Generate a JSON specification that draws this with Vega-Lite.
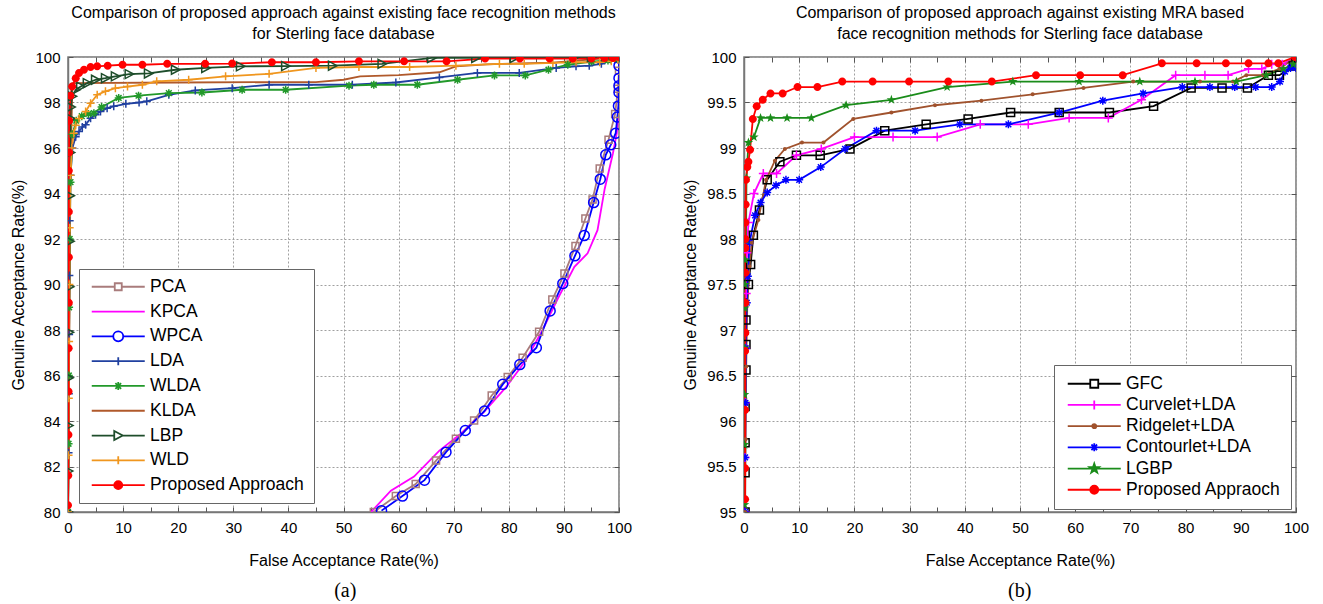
{
"$schema": "https://vega.github.io/schema/vega-lite/v6.json",
"background": "white",
"padding": {"left": 10, "top": 4, "right": 5, "bottom": 0},
"spacing": 49,
"resolve": {"scale": {"color": "independent", "shape": "independent"}, "legend": {"color": "independent", "shape": "independent"}},
"config": {
  "font": "Liberation Sans",
  "view": {"stroke": "#777", "strokeWidth": 1.5},
  "axis": {"labelFont": "Liberation Sans", "labelFontSize": 15, "labelColor": "black", "titleFont": "Liberation Sans", "titleFontSize": 16, "titleFontWeight": "normal", "titleColor": "black", "domainColor": "#777", "domainWidth": 1.5, "tickColor": "#555", "tickSize": -5, "labelPadding": 13, "gridColor": "#a0a0a0", "gridDash": [2, 2], "gridWidth": 1, "labelFlush": false, "labelOverlap": false},
  "title": {"font": "Liberation Sans", "fontSize": 16, "fontWeight": "normal", "color": "black"},
  "legend": {"labelFont": "Liberation Sans", "labelFontSize": 17.5, "labelColor": "black", "fillColor": "white", "strokeColor": "#666", "symbolSize": 100, "symbolStrokeWidth": 1.8, "labelOffset": 44.5, "labelLimit": 400, "symbolType": "stroke"}
},
"datasets": {
"a": [
{"s":"PCA","x":55.5,"y":80},{"s":"PCA","x":59.5,"y":80.7},{"s":"PCA","x":63.1,"y":81.23},{"s":"PCA","x":66.8,"y":82.26},{"s":"PCA","x":70.4,"y":83.22},{"s":"PCA","x":73.7,"y":84.02},{"s":"PCA","x":76.9,"y":85.12},{"s":"PCA","x":79.8,"y":85.93},{"s":"PCA","x":82.5,"y":86.78},{"s":"PCA","x":85.5,"y":87.92},{"s":"PCA","x":87.9,"y":89.34},{"s":"PCA","x":90.1,"y":90.48},{"s":"PCA","x":92.1,"y":91.69},{"s":"PCA","x":93.9,"y":92.9},{"s":"PCA","x":95.2,"y":93.74},{"s":"PCA","x":96.5,"y":95.1},{"s":"PCA","x":98.1,"y":96.36},{"s":"PCA","x":99.3,"y":97.5},{"s":"PCA","x":99.8,"y":98.6},{"s":"PCA","x":100,"y":99.4},{"s":"PCA","x":100,"y":100},
{"s":"KPCA","x":55,"y":80},{"s":"KPCA","x":58.6,"y":80.94},{"s":"KPCA","x":62.8,"y":81.56},{"s":"KPCA","x":67.4,"y":82.7},{"s":"KPCA","x":71.6,"y":83.5},{"s":"KPCA","x":75.5,"y":84.4},{"s":"KPCA","x":79.5,"y":85.49},{"s":"KPCA","x":83.1,"y":86.67},{"s":"KPCA","x":86.1,"y":87.99},{"s":"KPCA","x":88.9,"y":89.38},{"s":"KPCA","x":91.9,"y":90.78},{"s":"KPCA","x":94.3,"y":91.37},{"s":"KPCA","x":96.1,"y":92.39},{"s":"KPCA","x":97.4,"y":94.2},{"s":"KPCA","x":98.9,"y":95.77},{"s":"KPCA","x":99.6,"y":96.65},{"s":"KPCA","x":99.95,"y":97.68},{"s":"KPCA","x":100,"y":100},
{"s":"WPCA","x":56.9,"y":80.06},{"s":"WPCA","x":60.7,"y":80.7},{"s":"WPCA","x":64.7,"y":81.4},{"s":"WPCA","x":68.6,"y":82.63},{"s":"WPCA","x":72.1,"y":83.58},{"s":"WPCA","x":75.6,"y":84.44},{"s":"WPCA","x":78.9,"y":85.61},{"s":"WPCA","x":82,"y":86.48},{"s":"WPCA","x":85,"y":87.22},{"s":"WPCA","x":87.5,"y":88.84},{"s":"WPCA","x":89.8,"y":90.04},{"s":"WPCA","x":92,"y":91.26},{"s":"WPCA","x":93.7,"y":92.15},{"s":"WPCA","x":95.4,"y":93.6},{"s":"WPCA","x":96.6,"y":94.63},{"s":"WPCA","x":97.6,"y":95.7},{"s":"WPCA","x":98.5,"y":96.14},{"s":"WPCA","x":99.4,"y":96.65},{"s":"WPCA","x":99.7,"y":97.36},{"s":"WPCA","x":99.9,"y":97.85},{"s":"WPCA","x":100,"y":98.44},{"s":"WPCA","x":100,"y":98.74},{"s":"WPCA","x":100,"y":99.07},{"s":"WPCA","x":100,"y":99.62},{"s":"WPCA","x":100,"y":99.96},
{"s":"LDA","x":0,"y":80},{"s":"LDA","x":0.1,"y":82.6},{"s":"LDA","x":0.15,"y":85.2},{"s":"LDA","x":0.2,"y":87.8},{"s":"LDA","x":0.25,"y":90.4},{"s":"LDA","x":0.3,"y":92.8},{"s":"LDA","x":0.45,"y":94.8},{"s":"LDA","x":0.8,"y":96.0},{"s":"LDA","x":1.4,"y":96.5},{"s":"LDA","x":2,"y":96.73},{"s":"LDA","x":2.6,"y":96.92},{"s":"LDA","x":3.2,"y":97.02},{"s":"LDA","x":4.1,"y":97.31},{"s":"LDA","x":5,"y":97.46},{"s":"LDA","x":5.9,"y":97.6},{"s":"LDA","x":7.1,"y":97.75},{"s":"LDA","x":8.3,"y":97.83},{"s":"LDA","x":10.5,"y":97.94},{"s":"LDA","x":12.9,"y":98.0},{"s":"LDA","x":14.3,"y":98.05},{"s":"LDA","x":18.3,"y":98.34},{"s":"LDA","x":23.1,"y":98.53},{"s":"LDA","x":29.8,"y":98.63},{"s":"LDA","x":36.5,"y":98.78},{"s":"LDA","x":43.7,"y":98.78},{"s":"LDA","x":51.6,"y":98.78},{"s":"LDA","x":59.5,"y":98.88},{"s":"LDA","x":67.4,"y":99.1},{"s":"LDA","x":74.3,"y":99.3},{"s":"LDA","x":81.9,"y":99.3},{"s":"LDA","x":88.6,"y":99.52},{"s":"LDA","x":92.2,"y":99.59},{"s":"LDA","x":94.6,"y":99.62},{"s":"LDA","x":96.8,"y":99.7},{"s":"LDA","x":99.5,"y":99.96},{"s":"LDA","x":100,"y":100},
{"s":"WLDA","x":0,"y":80},{"s":"WLDA","x":0.1,"y":83},{"s":"WLDA","x":0.15,"y":86},{"s":"WLDA","x":0.2,"y":89},{"s":"WLDA","x":0.3,"y":92},{"s":"WLDA","x":0.45,"y":94.5},{"s":"WLDA","x":0.8,"y":96.6},{"s":"WLDA","x":1.5,"y":97.2},{"s":"WLDA","x":2.5,"y":97.4},{"s":"WLDA","x":3.7,"y":97.5},{"s":"WLDA","x":4.7,"y":97.53},{"s":"WLDA","x":6.1,"y":97.8},{"s":"WLDA","x":9.2,"y":98.2},{"s":"WLDA","x":12.8,"y":98.3},{"s":"WLDA","x":18.3,"y":98.41},{"s":"WLDA","x":24.3,"y":98.44},{"s":"WLDA","x":31.6,"y":98.56},{"s":"WLDA","x":39.5,"y":98.56},{"s":"WLDA","x":51,"y":98.74},{"s":"WLDA","x":55.5,"y":98.78},{"s":"WLDA","x":63.4,"y":98.78},{"s":"WLDA","x":70.7,"y":99.0},{"s":"WLDA","x":77.4,"y":99.19},{"s":"WLDA","x":83,"y":99.19},{"s":"WLDA","x":87.2,"y":99.44},{"s":"WLDA","x":90.7,"y":99.66},{"s":"WLDA","x":95,"y":99.8},{"s":"WLDA","x":98,"y":99.85},{"s":"WLDA","x":100,"y":99.9},
{"s":"KLDA","x":0,"y":80},{"s":"KLDA","x":0.15,"y":85},{"s":"KLDA","x":0.3,"y":90},{"s":"KLDA","x":0.45,"y":95},{"s":"KLDA","x":0.8,"y":98.85},{"s":"KLDA","x":20,"y":98.88},{"s":"KLDA","x":45,"y":98.9},{"s":"KLDA","x":50,"y":99.0},{"s":"KLDA","x":53,"y":99.15},{"s":"KLDA","x":60,"y":99.2},{"s":"KLDA","x":67.4,"y":99.33},{"s":"KLDA","x":70.4,"y":99.59},{"s":"KLDA","x":76,"y":99.68},{"s":"KLDA","x":88,"y":99.75},{"s":"KLDA","x":100,"y":100},
{"s":"LBP","x":0,"y":80},{"s":"LBP","x":0.05,"y":81.8},{"s":"LBP","x":0.1,"y":83.8},{"s":"LBP","x":0.15,"y":85.9},{"s":"LBP","x":0.2,"y":87.9},{"s":"LBP","x":0.25,"y":89.9},{"s":"LBP","x":0.3,"y":91.9},{"s":"LBP","x":0.35,"y":93.9},{"s":"LBP","x":0.4,"y":95.8},{"s":"LBP","x":0.45,"y":97.3},{"s":"LBP","x":0.5,"y":97.8},{"s":"LBP","x":0.75,"y":98.27},{"s":"LBP","x":1.4,"y":98.56},{"s":"LBP","x":2.3,"y":98.7},{"s":"LBP","x":3.5,"y":98.85},{"s":"LBP","x":5,"y":99.0},{"s":"LBP","x":6.8,"y":99.07},{"s":"LBP","x":8.6,"y":99.15},{"s":"LBP","x":11.1,"y":99.25},{"s":"LBP","x":14.6,"y":99.28},{"s":"LBP","x":19.5,"y":99.44},{"s":"LBP","x":25,"y":99.52},{"s":"LBP","x":31.3,"y":99.59},{"s":"LBP","x":39.5,"y":99.6},{"s":"LBP","x":48,"y":99.62},{"s":"LBP","x":57,"y":99.7},{"s":"LBP","x":66,"y":99.96},{"s":"LBP","x":74,"y":99.96},{"s":"LBP","x":81,"y":99.96},{"s":"LBP","x":92,"y":100},{"s":"LBP","x":95,"y":100},{"s":"LBP","x":97.6,"y":100},{"s":"LBP","x":99,"y":100},{"s":"LBP","x":100,"y":100},
{"s":"WLD","x":0,"y":80},{"s":"WLD","x":0.1,"y":82.5},{"s":"WLD","x":0.15,"y":85},{"s":"WLD","x":0.2,"y":87.5},{"s":"WLD","x":0.25,"y":90},{"s":"WLD","x":0.3,"y":92.5},{"s":"WLD","x":0.45,"y":94.8},{"s":"WLD","x":0.7,"y":96.0},{"s":"WLD","x":1.05,"y":96.65},{"s":"WLD","x":1.4,"y":97.0},{"s":"WLD","x":2,"y":97.3},{"s":"WLD","x":3.2,"y":97.6},{"s":"WLD","x":4.1,"y":97.97},{"s":"WLD","x":5.3,"y":98.34},{"s":"WLD","x":6.8,"y":98.49},{"s":"WLD","x":8.6,"y":98.63},{"s":"WLD","x":10.8,"y":98.7},{"s":"WLD","x":13.5,"y":98.78},{"s":"WLD","x":16.1,"y":98.93},{"s":"WLD","x":21.9,"y":99.0},{"s":"WLD","x":28.6,"y":99.15},{"s":"WLD","x":36.5,"y":99.26},{"s":"WLD","x":45,"y":99.52},{"s":"WLD","x":52.8,"y":99.56},{"s":"WLD","x":62,"y":99.56},{"s":"WLD","x":70.4,"y":99.62},{"s":"WLD","x":78.3,"y":99.7},{"s":"WLD","x":82.8,"y":99.7},{"s":"WLD","x":88,"y":99.74},{"s":"WLD","x":92.2,"y":99.77},{"s":"WLD","x":96.5,"y":99.77},{"s":"WLD","x":98.6,"y":99.81},{"s":"WLD","x":99.8,"y":99.88},{"s":"WLD","x":100,"y":100},
{"s":"Proposed Approach","x":0,"y":80.3},{"s":"Proposed Approach","x":0.05,"y":81.6},{"s":"Proposed Approach","x":0.08,"y":83.4},{"s":"Proposed Approach","x":0.1,"y":85.3},{"s":"Proposed Approach","x":0.12,"y":87.2},{"s":"Proposed Approach","x":0.15,"y":89.2},{"s":"Proposed Approach","x":0.15,"y":91.2},{"s":"Proposed Approach","x":0.15,"y":93.2},{"s":"Proposed Approach","x":0.15,"y":95.0},{"s":"Proposed Approach","x":0.2,"y":95.8},{"s":"Proposed Approach","x":0.2,"y":97.2},{"s":"Proposed Approach","x":0.45,"y":98.3},{"s":"Proposed Approach","x":0.75,"y":98.7},{"s":"Proposed Approach","x":1.4,"y":99.07},{"s":"Proposed Approach","x":2,"y":99.3},{"s":"Proposed Approach","x":2.9,"y":99.44},{"s":"Proposed Approach","x":4.1,"y":99.56},{"s":"Proposed Approach","x":5.3,"y":99.59},{"s":"Proposed Approach","x":7.2,"y":99.62},{"s":"Proposed Approach","x":9.9,"y":99.66},{"s":"Proposed Approach","x":13.5,"y":99.66},{"s":"Proposed Approach","x":18,"y":99.7},{"s":"Proposed Approach","x":24.9,"y":99.7},{"s":"Proposed Approach","x":29.8,"y":99.71},{"s":"Proposed Approach","x":37,"y":99.77},{"s":"Proposed Approach","x":45,"y":99.77},{"s":"Proposed Approach","x":52.8,"y":99.81},{"s":"Proposed Approach","x":61,"y":99.81},{"s":"Proposed Approach","x":68.7,"y":99.81},{"s":"Proposed Approach","x":75.7,"y":99.93},{"s":"Proposed Approach","x":82,"y":99.93},{"s":"Proposed Approach","x":87.4,"y":99.93},{"s":"Proposed Approach","x":91.6,"y":99.93},{"s":"Proposed Approach","x":95,"y":99.93},{"s":"Proposed Approach","x":97.4,"y":99.96},{"s":"Proposed Approach","x":98.9,"y":99.96},{"s":"Proposed Approach","x":100,"y":100}
],
"b": [
{"s":"GFC","x":0.2,"y":95.0},{"s":"GFC","x":0.2,"y":95.43},{"s":"GFC","x":0.2,"y":95.76},{"s":"GFC","x":0.2,"y":96.16},{"s":"GFC","x":0.36,"y":96.56},{"s":"GFC","x":0.36,"y":96.84},{"s":"GFC","x":0.36,"y":97.11},{"s":"GFC","x":0.8,"y":97.5},{"s":"GFC","x":1.2,"y":97.72},{"s":"GFC","x":1.7,"y":98.04},{"s":"GFC","x":2.8,"y":98.32},{"s":"GFC","x":4.2,"y":98.65},{"s":"GFC","x":6.5,"y":98.85},{"s":"GFC","x":9.5,"y":98.92},{"s":"GFC","x":13.8,"y":98.92},{"s":"GFC","x":19.2,"y":98.99},{"s":"GFC","x":25.5,"y":99.19},{"s":"GFC","x":33,"y":99.26},{"s":"GFC","x":40.6,"y":99.32},{"s":"GFC","x":48.3,"y":99.39},{"s":"GFC","x":57.1,"y":99.39},{"s":"GFC","x":66.2,"y":99.39},{"s":"GFC","x":74.2,"y":99.46},{"s":"GFC","x":81,"y":99.66},{"s":"GFC","x":86.6,"y":99.66},{"s":"GFC","x":91.2,"y":99.66},{"s":"GFC","x":95,"y":99.8},{"s":"GFC","x":97,"y":99.8},{"s":"GFC","x":99.5,"y":99.9},{"s":"GFC","x":100,"y":100},
{"s":"Curvelet+LDA","x":0.2,"y":95.0},{"s":"Curvelet+LDA","x":0.2,"y":95.6},{"s":"Curvelet+LDA","x":0.25,"y":96.2},{"s":"Curvelet+LDA","x":0.3,"y":96.8},{"s":"Curvelet+LDA","x":0.4,"y":97.4},{"s":"Curvelet+LDA","x":0.5,"y":97.85},{"s":"Curvelet+LDA","x":0.8,"y":98.18},{"s":"Curvelet+LDA","x":1.8,"y":98.5},{"s":"Curvelet+LDA","x":3.5,"y":98.72},{"s":"Curvelet+LDA","x":5.9,"y":98.72},{"s":"Curvelet+LDA","x":9.5,"y":98.92},{"s":"Curvelet+LDA","x":14,"y":98.99},{"s":"Curvelet+LDA","x":20,"y":99.12},{"s":"Curvelet+LDA","x":27,"y":99.12},{"s":"Curvelet+LDA","x":35,"y":99.12},{"s":"Curvelet+LDA","x":42.8,"y":99.26},{"s":"Curvelet+LDA","x":51.5,"y":99.26},{"s":"Curvelet+LDA","x":58.9,"y":99.33},{"s":"Curvelet+LDA","x":66,"y":99.33},{"s":"Curvelet+LDA","x":72,"y":99.53},{"s":"Curvelet+LDA","x":78.2,"y":99.8},{"s":"Curvelet+LDA","x":83.5,"y":99.8},{"s":"Curvelet+LDA","x":87.7,"y":99.8},{"s":"Curvelet+LDA","x":91.4,"y":99.87},{"s":"Curvelet+LDA","x":93.8,"y":99.87},{"s":"Curvelet+LDA","x":95.6,"y":99.92},{"s":"Curvelet+LDA","x":97.5,"y":99.92},{"s":"Curvelet+LDA","x":100,"y":100},
{"s":"Ridgelet+LDA","x":0.2,"y":95.0},{"s":"Ridgelet+LDA","x":0.3,"y":95.8},{"s":"Ridgelet+LDA","x":0.4,"y":96.6},{"s":"Ridgelet+LDA","x":0.6,"y":97.3},{"s":"Ridgelet+LDA","x":1.0,"y":97.7},{"s":"Ridgelet+LDA","x":1.4,"y":97.96},{"s":"Ridgelet+LDA","x":2.6,"y":98.21},{"s":"Ridgelet+LDA","x":4,"y":98.65},{"s":"Ridgelet+LDA","x":5.6,"y":98.86},{"s":"Ridgelet+LDA","x":7.4,"y":98.99},{"s":"Ridgelet+LDA","x":10.5,"y":99.06},{"s":"Ridgelet+LDA","x":14.4,"y":99.06},{"s":"Ridgelet+LDA","x":19.8,"y":99.32},{"s":"Ridgelet+LDA","x":26.7,"y":99.39},{"s":"Ridgelet+LDA","x":34.6,"y":99.47},{"s":"Ridgelet+LDA","x":43,"y":99.52},{"s":"Ridgelet+LDA","x":52.3,"y":99.59},{"s":"Ridgelet+LDA","x":61.5,"y":99.66},{"s":"Ridgelet+LDA","x":70.5,"y":99.73},{"s":"Ridgelet+LDA","x":82.6,"y":99.73},{"s":"Ridgelet+LDA","x":88.6,"y":99.73},{"s":"Ridgelet+LDA","x":91,"y":99.8},{"s":"Ridgelet+LDA","x":94,"y":99.8},{"s":"Ridgelet+LDA","x":97,"y":99.87},{"s":"Ridgelet+LDA","x":100,"y":100},
{"s":"Contourlet+LDA","x":0.2,"y":95.0},{"s":"Contourlet+LDA","x":0.2,"y":95.6},{"s":"Contourlet+LDA","x":0.25,"y":96.2},{"s":"Contourlet+LDA","x":0.3,"y":96.8},{"s":"Contourlet+LDA","x":0.5,"y":97.3},{"s":"Contourlet+LDA","x":0.7,"y":97.59},{"s":"Contourlet+LDA","x":1,"y":97.96},{"s":"Contourlet+LDA","x":2,"y":98.26},{"s":"Contourlet+LDA","x":3,"y":98.4},{"s":"Contourlet+LDA","x":4.2,"y":98.51},{"s":"Contourlet+LDA","x":5.8,"y":98.59},{"s":"Contourlet+LDA","x":7.6,"y":98.65},{"s":"Contourlet+LDA","x":10,"y":98.65},{"s":"Contourlet+LDA","x":13.9,"y":98.79},{"s":"Contourlet+LDA","x":18.3,"y":98.99},{"s":"Contourlet+LDA","x":24,"y":99.19},{"s":"Contourlet+LDA","x":31,"y":99.19},{"s":"Contourlet+LDA","x":39.1,"y":99.26},{"s":"Contourlet+LDA","x":47.9,"y":99.26},{"s":"Contourlet+LDA","x":57.1,"y":99.39},{"s":"Contourlet+LDA","x":65,"y":99.52},{"s":"Contourlet+LDA","x":72.3,"y":99.6},{"s":"Contourlet+LDA","x":79.4,"y":99.67},{"s":"Contourlet+LDA","x":84.4,"y":99.67},{"s":"Contourlet+LDA","x":88.9,"y":99.67},{"s":"Contourlet+LDA","x":92.7,"y":99.67},{"s":"Contourlet+LDA","x":95.6,"y":99.67},{"s":"Contourlet+LDA","x":97.1,"y":99.73},{"s":"Contourlet+LDA","x":98,"y":99.84},{"s":"Contourlet+LDA","x":99,"y":99.88},{"s":"Contourlet+LDA","x":100,"y":99.88},
{"s":"LGBP","x":0.1,"y":95.08},{"s":"LGBP","x":0.1,"y":95.74},{"s":"LGBP","x":0.1,"y":96.29},{"s":"LGBP","x":0.15,"y":96.8},{"s":"LGBP","x":0.15,"y":97.24},{"s":"LGBP","x":0.2,"y":97.5},{"s":"LGBP","x":0.2,"y":97.77},{"s":"LGBP","x":0.36,"y":97.99},{"s":"LGBP","x":0.45,"y":98.67},{"s":"LGBP","x":0.8,"y":99.06},{"s":"LGBP","x":1.8,"y":99.12},{"s":"LGBP","x":3,"y":99.33},{"s":"LGBP","x":4.8,"y":99.33},{"s":"LGBP","x":7.8,"y":99.33},{"s":"LGBP","x":12.2,"y":99.33},{"s":"LGBP","x":18.5,"y":99.47},{"s":"LGBP","x":26.7,"y":99.53},{"s":"LGBP","x":36.8,"y":99.67},{"s":"LGBP","x":48.7,"y":99.73},{"s":"LGBP","x":60.7,"y":99.73},{"s":"LGBP","x":71.7,"y":99.73},{"s":"LGBP","x":81.7,"y":99.73},{"s":"LGBP","x":89.2,"y":99.73},{"s":"LGBP","x":94.6,"y":99.8},{"s":"LGBP","x":97.7,"y":99.87},{"s":"LGBP","x":99.5,"y":99.92},{"s":"LGBP","x":100,"y":100},
{"s":"Proposed Appraoch","x":0.2,"y":95.14},{"s":"Proposed Appraoch","x":0.2,"y":95.48},{"s":"Proposed Appraoch","x":0.2,"y":96.12},{"s":"Proposed Appraoch","x":0.2,"y":96.77},{"s":"Proposed Appraoch","x":0.25,"y":96.97},{"s":"Proposed Appraoch","x":0.25,"y":97.3},{"s":"Proposed Appraoch","x":0.25,"y":97.63},{"s":"Proposed Appraoch","x":0.25,"y":97.9},{"s":"Proposed Appraoch","x":0.25,"y":98.0},{"s":"Proposed Appraoch","x":0.25,"y":98.18},{"s":"Proposed Appraoch","x":0.3,"y":98.38},{"s":"Proposed Appraoch","x":0.36,"y":98.65},{"s":"Proposed Appraoch","x":0.6,"y":98.79},{"s":"Proposed Appraoch","x":0.8,"y":98.85},{"s":"Proposed Appraoch","x":1.1,"y":98.98},{"s":"Proposed Appraoch","x":1.6,"y":99.32},{"s":"Proposed Appraoch","x":2.3,"y":99.46},{"s":"Proposed Appraoch","x":3.4,"y":99.53},{"s":"Proposed Appraoch","x":4.8,"y":99.6},{"s":"Proposed Appraoch","x":7,"y":99.6},{"s":"Proposed Appraoch","x":9.7,"y":99.67},{"s":"Proposed Appraoch","x":13.3,"y":99.67},{"s":"Proposed Appraoch","x":17.8,"y":99.73},{"s":"Proposed Appraoch","x":23.3,"y":99.73},{"s":"Proposed Appraoch","x":29.9,"y":99.73},{"s":"Proposed Appraoch","x":37,"y":99.73},{"s":"Proposed Appraoch","x":44.9,"y":99.73},{"s":"Proposed Appraoch","x":52.9,"y":99.8},{"s":"Proposed Appraoch","x":60.9,"y":99.8},{"s":"Proposed Appraoch","x":68.6,"y":99.8},{"s":"Proposed Appraoch","x":75.7,"y":99.93},{"s":"Proposed Appraoch","x":82,"y":99.93},{"s":"Proposed Appraoch","x":87.3,"y":99.93},{"s":"Proposed Appraoch","x":91.4,"y":99.93},{"s":"Proposed Appraoch","x":95,"y":99.93},{"s":"Proposed Appraoch","x":96.8,"y":99.93},{"s":"Proposed Appraoch","x":99.8,"y":100},{"s":"Proposed Appraoch","x":100,"y":100}
]
},
"hconcat": [
{
 "title": {"text": "(a)", "orient": "bottom", "anchor": "middle", "dx": 24, "font": "Liberation Serif", "fontSize": 20, "fontWeight": "normal", "offset": 12},
 "vconcat": [
 {
  "title": {"text": ["Comparison of proposed approach against existing face recognition methods", "for Sterling face database"], "lineHeight": 21, "offset": 8},
  "width": 551, "height": 455,
  "data": {"name": "a"},
  "resolve": {"axis": {"x": "independent", "y": "independent"}},
  "layer": [
   {
    "mark": {"type": "line", "strokeWidth": 1.8, "clip": true},
    "encoding": {
     "x": {"field": "x", "type": "quantitative", "scale": {"domain": [0, 100], "nice": false},
       "axis": {"title": "False Acceptance Rate(%)", "titlePadding": 17, "values": [0,5,10,15,20,25,30,35,40,45,50,55,60,65,70,75,80,85,90,95,100], "labelExpr": "datum.value % 10 === 0 ? datum.label : ''", "gridOpacity": {"condition": {"test": "datum.value % 10 === 0", "value": 1}, "value": 0}}},
     "y": {"field": "y", "type": "quantitative", "scale": {"domain": [80, 100], "nice": false, "zero": false},
       "axis": {"title": "Genuine Acceptance Rate(%)", "titlePadding": 8, "values": [80,82,84,86,88,90,92,94,96,98,100]}},
     "color": {"field": "s", "type": "nominal",
       "scale": {"domain": ["PCA","KPCA","WPCA","LDA","WLDA","KLDA","LBP","WLD","Proposed Approach"], "range": ["#a97c7c","#ff00ff","#0000ff","#2040a0","#22992a","#b0592b","#1e4d2b","#f0961e","#ff0000"]},
       "legend": {"title": null, "orient": "none", "legendX": 11, "legendY": 212, "padding": 9, "rowPadding": 5.8,
         "encode": {"symbols": {"update": {
           "shape": {"signal": "['M-1,0H3.6M5,0H9.6M3.6,-0.7H5V0.7H3.6Z','M-1,0H9.6','M-1,0H3.3M5.3,0H9.6M3.3,0A1,1 0 1,0 5.3,0A1,1 0 1,0 3.3,0Z','M-1,0H9.6M4.3,-0.8V0.8','M-1,0H9.6M4.3,-0.8V0.8M3.73,-0.57L4.87,0.57M3.73,0.57L4.87,-0.57','M-1,0H9.6','M-1,0H3.5M5.2,0H9.6M3.5,-0.9L5.2,0L3.5,0.9Z','M-1,0H9.6M4.3,-0.8V0.8','M-1,0H9.6M3.5,0A0.8,0.8 0 1,0 5.1,0A0.8,0.8 0 1,0 3.5,0Z'][datum.index]"},
           "fillOpacity": {"signal": "[0,0,0,0,0,0,0,0,1][datum.index]"}
         }}}}},
     "order": [{"field": "x", "type": "quantitative"}, {"field": "y", "type": "quantitative"}]
    }
   },
   {
    "transform": [{"filter": {"field": "s", "oneOf": ["PCA","WPCA","LDA","WLDA","LBP","WLD"]}}],
    "mark": {"type": "point", "filled": false, "size": 100, "strokeWidth": 1.5, "opacity": 1, "clip": true},
    "encoding": {
     "x": {"field": "x", "type": "quantitative", "axis": null},
     "y": {"field": "y", "type": "quantitative", "axis": null},
     "color": {"field": "s", "type": "nominal"},
     "shape": {"field": "s", "type": "nominal", "legend": null,
       "scale": {"domain": ["PCA","WPCA","LDA","WLDA","LBP","WLD","Proposed Approach"],
         "range": ["M-0.7,-0.7H0.7V0.7H-0.7Z","M-1,0A1,1 0 1,0 1,0A1,1 0 1,0 -1,0Z","M0,-0.8V0.8M-0.8,0H0.8","M0,-0.8V0.8M-0.8,0H0.8M-0.57,-0.57L0.57,0.57M-0.57,0.57L0.57,-0.57","M-0.8,-0.9L0.9,0L-0.8,0.9Z","M0,-0.8V0.8M-0.8,0H0.8","M-0.8,0A0.8,0.8 0 1,0 0.8,0A0.8,0.8 0 1,0 -0.8,0Z"]}}
    }
   },
   {
    "transform": [{"filter": {"field": "s", "equal": "Proposed Approach"}}],
    "mark": {"type": "point", "filled": true, "size": 100, "opacity": 1, "clip": true},
    "encoding": {
     "x": {"field": "x", "type": "quantitative", "axis": null},
     "y": {"field": "y", "type": "quantitative", "axis": null},
     "color": {"field": "s", "type": "nominal"},
     "shape": {"field": "s", "type": "nominal", "legend": null}
    }
   },
   {
    "mark": {"type": "point", "opacity": 0},
    "encoding": {
     "x": {"field": "x", "type": "quantitative", "axis": {"orient": "top", "labels": false, "title": null, "grid": false, "domain": false, "values": [0,5,10,15,20,25,30,35,40,45,50,55,60,65,70,75,80,85,90,95,100]}},
     "y": {"field": "y", "type": "quantitative", "axis": {"orient": "right", "labels": false, "title": null, "grid": false, "domain": false, "values": [80,82,84,86,88,90,92,94,96,98,100]}}
    }
   }
  ]
 }
 ]
},
{
 "title": {"text": "(b)", "orient": "bottom", "anchor": "middle", "dx": 24, "font": "Liberation Serif", "fontSize": 20, "fontWeight": "normal", "offset": 12},
 "vconcat": [
 {
  "title": {"text": ["Comparison of proposed approach against existing MRA based", "face recognition methods for Sterling face database"], "lineHeight": 21, "offset": 8},
  "width": 552, "height": 455,
  "data": {"name": "b"},
  "resolve": {"axis": {"x": "independent", "y": "independent"}},
  "layer": [
   {
    "mark": {"type": "line", "strokeWidth": 1.8, "clip": true},
    "encoding": {
     "x": {"field": "x", "type": "quantitative", "scale": {"domain": [0, 100], "nice": false},
       "axis": {"title": "False Acceptance Rate(%)", "titlePadding": 17, "values": [0,5,10,15,20,25,30,35,40,45,50,55,60,65,70,75,80,85,90,95,100], "labelExpr": "datum.value % 10 === 0 ? datum.label : ''", "gridOpacity": {"condition": {"test": "datum.value % 10 === 0", "value": 1}, "value": 0}}},
     "y": {"field": "y", "type": "quantitative", "scale": {"domain": [95, 100], "nice": false, "zero": false},
       "axis": {"title": "Genuine Acceptance Rate(%)", "titlePadding": 8, "format": "~f", "values": [95,95.5,96,96.5,97,97.5,98,98.5,99,99.5,100]}},
     "color": {"field": "s", "type": "nominal",
       "scale": {"domain": ["GFC","Curvelet+LDA","Ridgelet+LDA","Contourlet+LDA","LGBP","Proposed Appraoch"], "range": ["#000000","#ff00ff","#a0522d","#0000ff","#1a8c1a","#ff0000"]},
       "legend": {"title": null, "orient": "none", "legendX": 310, "legendY": 308, "padding": 10, "rowPadding": 2.2,
         "encode": {"symbols": {"update": {
           "shape": {"signal": "['M-1,0H3.5M5.1,0H9.6M3.5,-0.8H5.1V0.8H3.5Z','M-1,0H9.6M4.3,-0.9V0.9','M-1,0H9.6M3.9,0A0.4,0.4 0 1,0 4.7,0A0.4,0.4 0 1,0 3.9,0Z','M-1,0H9.6M4.3,-0.8V0.8M3.73,-0.57L4.87,0.57M3.73,0.57L4.87,-0.57','M-1,0H9.6M4.3,-1L4.535,-0.324L5.251,-0.309L4.68,0.124L4.888,0.809L4.3,0.4L3.712,0.809L3.92,0.124L3.349,-0.309L4.065,-0.324Z','M-1,0H9.6M3.5,0A0.8,0.8 0 1,0 5.1,0A0.8,0.8 0 1,0 3.5,0Z'][datum.index]"},
           "fillOpacity": {"signal": "[0,0,1,0,1,1][datum.index]"}
         }}}}},
     "order": [{"field": "x", "type": "quantitative"}, {"field": "y", "type": "quantitative"}]
    }
   },
   {
    "transform": [{"filter": {"field": "s", "oneOf": ["GFC","Curvelet+LDA","Contourlet+LDA"]}}],
    "mark": {"type": "point", "filled": false, "size": 100, "strokeWidth": 1.5, "opacity": 1, "clip": true},
    "encoding": {
     "x": {"field": "x", "type": "quantitative", "axis": null},
     "y": {"field": "y", "type": "quantitative", "axis": null},
     "color": {"field": "s", "type": "nominal"},
     "shape": {"field": "s", "type": "nominal", "legend": null,
       "scale": {"domain": ["Proposed Appraoch","GFC","Curvelet+LDA","Ridgelet+LDA","Contourlet+LDA","LGBP"],
         "range": ["M-0.8,0A0.8,0.8 0 1,0 0.8,0A0.8,0.8 0 1,0 -0.8,0Z","M-0.8,-0.8H0.8V0.8H-0.8Z","M0,-0.9V0.9M-0.9,0H0.9","M-0.4,0A0.4,0.4 0 1,0 0.4,0A0.4,0.4 0 1,0 -0.4,0Z","M0,-0.8V0.8M-0.8,0H0.8M-0.57,-0.57L0.57,0.57M-0.57,0.57L0.57,-0.57","M0,-1L0.235,-0.324L0.951,-0.309L0.38,0.124L0.588,0.809L0,0.4L-0.588,0.809L-0.38,0.124L-0.951,-0.309L-0.235,-0.324Z"]}}
    }
   },
   {
    "transform": [{"filter": {"field": "s", "oneOf": ["Ridgelet+LDA","LGBP","Proposed Appraoch"]}}],
    "mark": {"type": "point", "filled": true, "size": 100, "opacity": 1, "clip": true},
    "encoding": {
     "x": {"field": "x", "type": "quantitative", "axis": null},
     "y": {"field": "y", "type": "quantitative", "axis": null},
     "color": {"field": "s", "type": "nominal"},
     "shape": {"field": "s", "type": "nominal", "legend": null}
    }
   },
   {
    "mark": {"type": "point", "opacity": 0},
    "encoding": {
     "x": {"field": "x", "type": "quantitative", "axis": {"orient": "top", "labels": false, "title": null, "grid": false, "domain": false, "values": [0,5,10,15,20,25,30,35,40,45,50,55,60,65,70,75,80,85,90,95,100]}},
     "y": {"field": "y", "type": "quantitative", "axis": {"orient": "right", "labels": false, "title": null, "grid": false, "domain": false, "values": [95,95.5,96,96.5,97,97.5,98,98.5,99,99.5,100]}}
    }
   }
  ]
 }
 ]
}
]
}
